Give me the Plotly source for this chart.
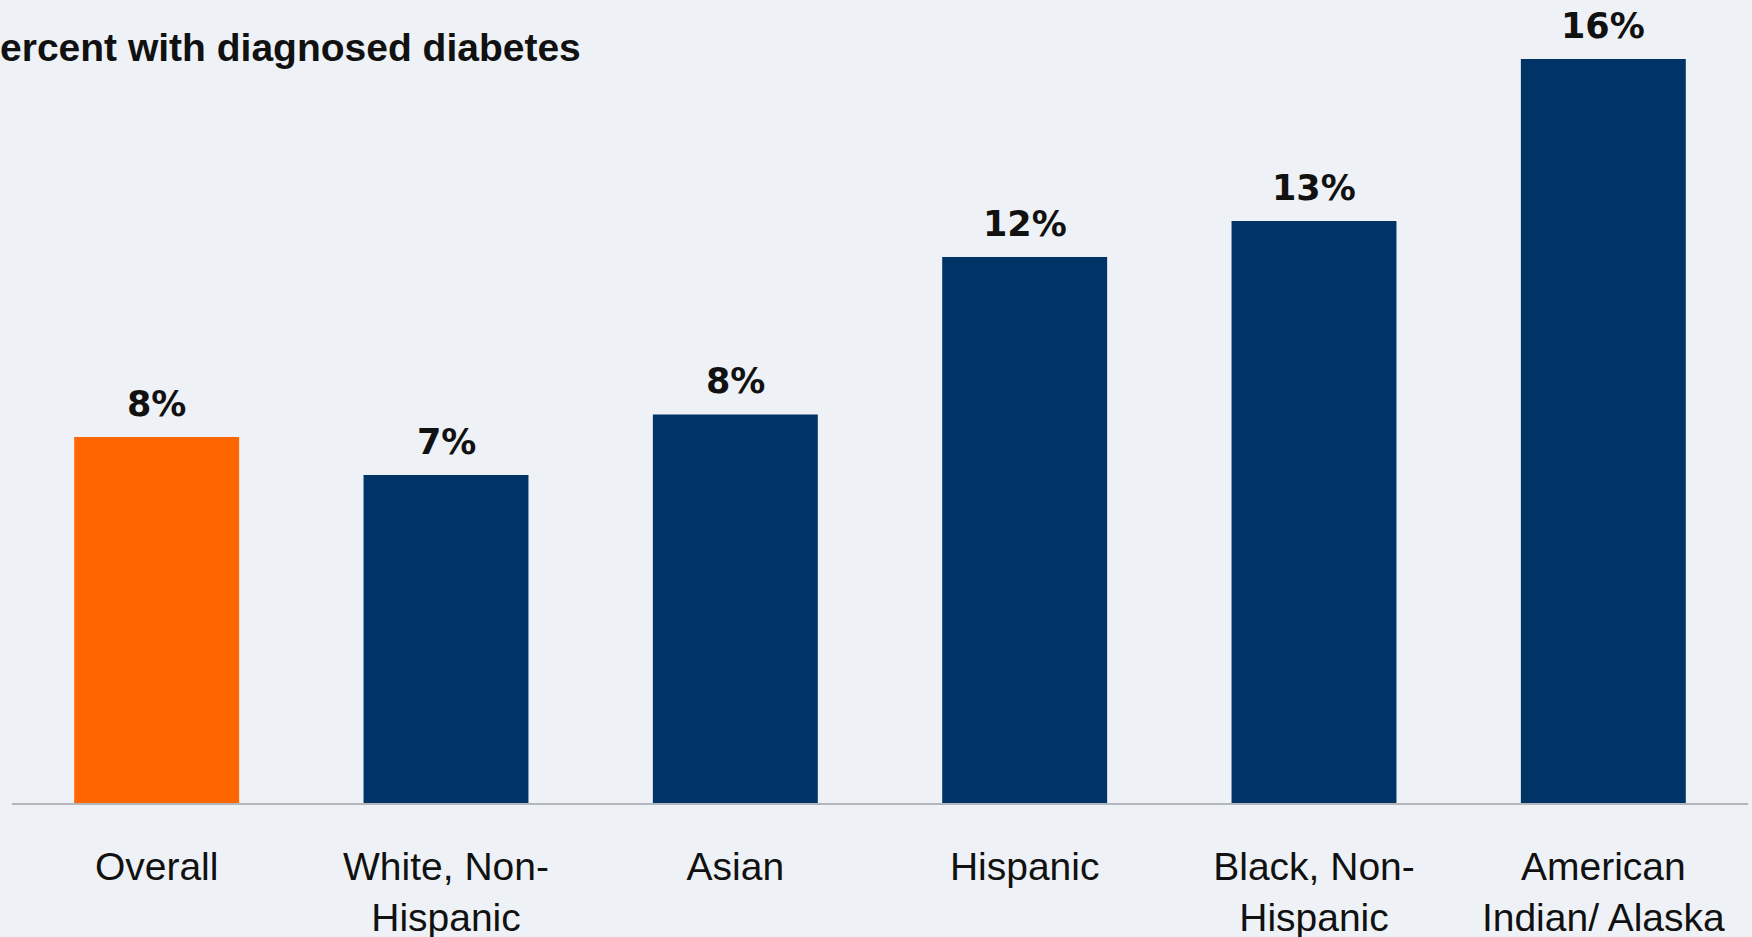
import plotly.graph_objects as go

categories = ["Overall", "White, Non-<br>Hispanic", "Asian", "Hispanic",
              "Black, Non-<br>Hispanic", "American<br>Indian/ Alaska<br>Native"]
values = [7.97, 7.14, 8.46, 11.89, 12.67, 16.2]
bar_colors = ["#FF6600", "#003366", "#003366", "#003366", "#003366", "#003366"]
value_labels = [f"{round(v)}%" for v in values]
title_text = "Percent with diagnosed diabetes"

W, H = 1752, 937
ML, MR, MT, MB = 12, 4, 59, 134
plot_w = W - ML - MR
plot_h = H - MT - MB

fig = go.Figure()
fig.add_trace(go.Bar(
    x=categories, y=values, marker=dict(color=bar_colors, line=dict(width=0)),
    hoverinfo="skip", cliponaxis=False,
))

for c, v, t in zip(categories, values, value_labels):
    fig.add_annotation(
        x=c, y=v, xref="x", yref="y", text=t, showarrow=False,
        yanchor="bottom", xanchor="center", yshift=11,
        font=dict(family="DejaVu Sans, sans-serif", size=35, color="#111111", weight="bold"),
    )

fig.add_annotation(
    xref="paper", yref="paper",
    x=(-28 - ML) / plot_w, y=1 + (MT - 47) / plot_h,
    xanchor="left", yanchor="middle", showarrow=False,
    text=title_text,
    font=dict(family="Liberation Sans, Arial, sans-serif", size=39, color="#111111", weight="bold"),
)

bg = "#EEF2F6"
fig.update_layout(
    width=W, height=H,
    margin=dict(l=ML, r=MR, t=MT, b=MB, pad=0, autoexpand=False),
    paper_bgcolor=bg, plot_bgcolor=bg,
    bargap=0.43, showlegend=False,
    xaxis=dict(
        type="category", showgrid=False, zeroline=False, automargin=False,
        showline=True, linecolor="#B3B6BA", linewidth=2,
        ticks="", ticklabelstandoff=28,
        tickfont=dict(family="Liberation Sans, Arial, sans-serif", size=39, color="#111111"),
        fixedrange=True,
    ),
    yaxis=dict(
        range=[0, 16.2], visible=False, showgrid=False, zeroline=False,
        automargin=False, fixedrange=True,
    ),
)

fig.write_html("out.html")
